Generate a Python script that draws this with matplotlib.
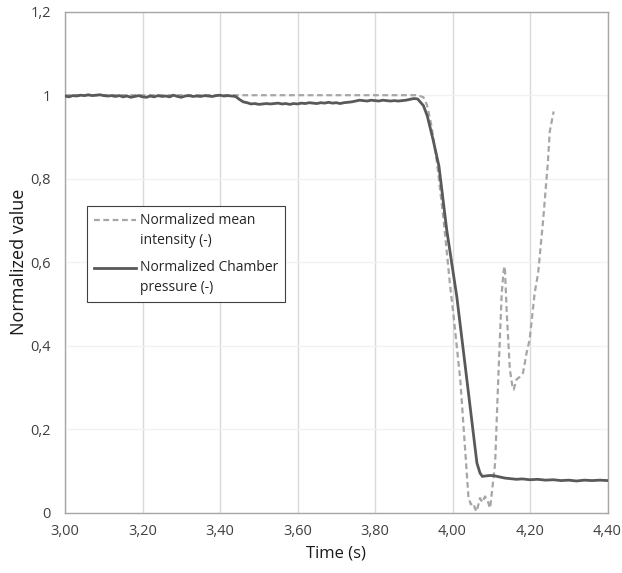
import matplotlib
matplotlib.use("Agg")
import matplotlib.pyplot as plt
from matplotlib.ticker import FuncFormatter
from matplotlib.legend_handler import HandlerLine2D

plt.rcParams['font.family'] = ['Open Sans', 'DejaVu Sans']

# ---- data ----
pressure_t = [3.00, 3.01, 3.02, 3.03, 3.04, 3.05, 3.06, 3.07, 3.08, 3.09,
              3.10, 3.11, 3.12, 3.13, 3.14, 3.15, 3.16, 3.17, 3.18, 3.19,
              3.20, 3.21, 3.22, 3.23, 3.24, 3.25, 3.26, 3.27, 3.28, 3.29,
              3.30, 3.31, 3.32, 3.33, 3.34, 3.35, 3.36, 3.37, 3.38, 3.39,
              3.40, 3.41, 3.42, 3.43, 3.44, 3.45, 3.46, 3.47, 3.48, 3.49,
              3.50, 3.51, 3.52, 3.53, 3.54, 3.55, 3.56, 3.57, 3.58, 3.59,
              3.60, 3.61, 3.62, 3.63, 3.64, 3.65, 3.66, 3.67, 3.68, 3.69,
              3.70, 3.71, 3.72, 3.73, 3.74, 3.75, 3.76, 3.77, 3.78, 3.79,
              3.80, 3.81, 3.82, 3.83, 3.84, 3.85, 3.86, 3.87, 3.88, 3.89,
              3.90, 3.91, 3.925, 3.935, 3.95, 3.965, 3.985, 4.011, 4.037, 4.063,
              4.071, 4.077, 4.085, 4.095, 4.105, 4.115, 4.125, 4.135, 4.145, 4.155,
              4.165, 4.18, 4.20, 4.22, 4.24, 4.26, 4.28, 4.30, 4.32, 4.34,
              4.36, 4.38, 4.40]
pressure_v = [0.998, 0.996, 0.999, 0.998, 1.000, 0.999, 1.001, 0.999, 1.000, 1.001,
              0.999, 0.998, 0.999, 0.997, 0.999, 0.996, 0.998, 0.995, 0.997, 0.999,
              0.996, 0.995, 0.998, 0.996, 0.999, 0.997, 0.998, 0.996, 1.000, 0.997,
              0.995, 0.998, 0.999, 0.997, 0.998, 0.997, 0.999, 0.998, 0.997, 0.999,
              1.000, 0.998, 0.999, 0.998, 0.997, 0.990, 0.984, 0.982, 0.979, 0.980,
              0.978, 0.979, 0.980, 0.979, 0.980, 0.981, 0.979, 0.980, 0.978, 0.980,
              0.979, 0.981, 0.980, 0.982, 0.981, 0.980, 0.982, 0.981, 0.983, 0.981,
              0.982, 0.980, 0.982, 0.983, 0.984, 0.986, 0.988, 0.987, 0.986, 0.988,
              0.987, 0.986, 0.988, 0.987, 0.986, 0.987, 0.986, 0.987, 0.988, 0.990,
              0.992, 0.991, 0.975, 0.950, 0.893, 0.830, 0.678, 0.518, 0.319, 0.119,
              0.095, 0.087, 0.088, 0.089, 0.089, 0.087, 0.085, 0.083, 0.082, 0.081,
              0.080, 0.081, 0.079, 0.080, 0.078, 0.079, 0.077, 0.078, 0.076, 0.078,
              0.077, 0.078, 0.077]

intensity_t = [3.00, 3.91, 3.925, 3.934, 3.945, 3.960, 3.977, 3.994, 4.002, 4.020,
               4.032, 4.041, 4.047, 4.054, 4.058, 4.062, 4.067, 4.071, 4.077, 4.084,
               4.090, 4.097, 4.103, 4.110, 4.118, 4.127, 4.132, 4.135, 4.140, 4.148,
               4.155, 4.158, 4.165, 4.173, 4.182, 4.191, 4.199, 4.212, 4.221, 4.234,
               4.246, 4.251, 4.261]
intensity_v = [1.000, 1.000, 0.995, 0.977, 0.930, 0.838, 0.702, 0.542, 0.478, 0.319,
               0.159, 0.039, 0.020, 0.023, 0.010, 0.003, 0.020, 0.035, 0.025, 0.039,
               0.030, 0.011, 0.060, 0.119, 0.319, 0.526, 0.580, 0.590, 0.478, 0.343,
               0.300, 0.295, 0.319, 0.325, 0.335, 0.382, 0.414, 0.526, 0.574, 0.702,
               0.838, 0.913, 0.961]

x_ticks = [3.00, 3.20, 3.40, 3.60, 3.80, 4.00, 4.20, 4.40]
y_ticks = [0, 0.2, 0.4, 0.6, 0.8, 1.0, 1.2]

label_intensity = "Normalized mean\nintensity (-)"
label_pressure = "Normalized Chamber\npressure (-)"


class TopAlignedLine(HandlerLine2D):
    """Legend handle placed at the first line of a two-line label."""
    def __init__(self, shift, **kw):
        super().__init__(**kw)
        self.shift = shift

    def create_artists(self, legend, orig_handle, xdescent, ydescent,
                       width, height, fontsize, trans):
        arts = super().create_artists(legend, orig_handle, xdescent, ydescent,
                                      width, height, fontsize, trans)
        for a in arts:
            if hasattr(a, 'get_ydata'):
                a.set_ydata([y + self.shift for y in a.get_ydata()])
        return arts


# ---- figure ----
fig = plt.figure(figsize=(6.22, 5.73), dpi=100)
ax = fig.add_axes([0.1045, 0.1052, 0.8722, 0.8744])

l1, = ax.plot(intensity_t, intensity_v, color='#A6A6A6', lw=1.6,
              dashes=(2.6, 1.6), label=label_intensity, zorder=3)
l2, = ax.plot(pressure_t, pressure_v, color='#595959', lw=2.0,
              label=label_pressure, zorder=4)

ax.set_xlim(3.0, 4.4)
ax.set_ylim(0, 1.2)
ax.set_xticks(x_ticks)
ax.set_yticks(y_ticks)

def fmt_x(v, pos):
    return f"{v:.2f}".replace('.', ',')

def fmt_y(v, pos):
    if abs(v - round(v)) < 1e-9:
        return f"{int(round(v))}"
    return f"{v:.1f}".replace('.', ',')

ax.xaxis.set_major_formatter(FuncFormatter(fmt_x))
ax.yaxis.set_major_formatter(FuncFormatter(fmt_y))
ax.tick_params(axis='both', length=0, labelsize=10.5, colors='#404040')
ax.tick_params(axis='x', pad=8)
ax.tick_params(axis='y', pad=10)

ax.grid(axis='x', color='#D9D9D9', lw=1.0)
ax.grid(axis='y', color='#F2F2F2', lw=1.0)
ax.set_axisbelow(True)
for s in ['left', 'bottom', 'top', 'right']:
    ax.spines[s].set_color('#A6A6A6')
    ax.spines[s].set_linewidth(1.0)

ax.set_xlabel("Time (s)", fontsize=12, color='#1a1a1a', labelpad=5)
ax.set_ylabel("Normalized value", fontsize=13, color='#1a1a1a', labelpad=2)

shift = 7.5
leg = ax.legend(loc='upper left', bbox_to_anchor=(87/622, 1 - 206/573),
                bbox_transform=fig.transFigure, fontsize=10, frameon=True,
                fancybox=False, framealpha=1, edgecolor='#404040',
                handlelength=3.0, handletextpad=0.3, borderpad=0.5,
                labelspacing=0.9, borderaxespad=0,
                handler_map={l1: TopAlignedLine(shift), l2: TopAlignedLine(shift)})
leg.get_frame().set_linewidth(0.8)
for t in leg.get_texts():
    t.set_linespacing(1.42)
    t.set_color('#262626')

fig.savefig("out.png", dpi=100)
